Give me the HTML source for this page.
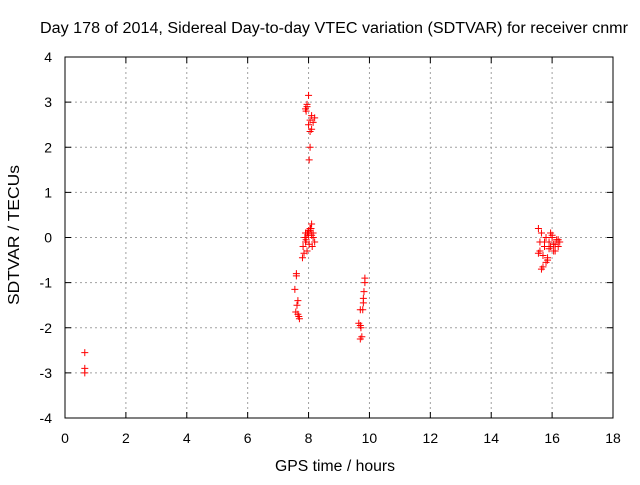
<!DOCTYPE html>
<html><head><meta charset="utf-8"><style>
body{margin:0;background:#fff;}
svg text{font-family:"Liberation Sans",sans-serif;font-size:14px;fill:#000;}
</style></head><body>
<svg id="chart" width="640" height="480">
<text x="40" y="33" textLength="588" lengthAdjust="spacingAndGlyphs" style="font-size:15.5px">Day 178 of 2014, Sidereal Day-to-day VTEC variation (SDTVAR) for receiver cnmr</text>
<text x="335" y="471" text-anchor="middle" textLength="120" lengthAdjust="spacingAndGlyphs" style="font-size:15.5px">GPS time / hours</text>
<text x="19" y="235" text-anchor="middle" textLength="140" lengthAdjust="spacingAndGlyphs" style="font-size:15.5px" transform="rotate(-90 19 235)">SDTVAR / TECUs</text>
<g id="grid"></g><g id="axes"></g><g id="pts"></g>
<rect x="65" y="57" width="548" height="361" fill="none" stroke="#000"/>
</svg>
<script>
const xTicks=[0,2,4,6,8,10,12,14,16,18];
const yTicks=[-4,-3,-2,-1,0,1,2,3,4];
const xs=[0.65,0.65,0.65,
7.55,7.6,7.6,7.65,7.62,7.58,7.65,7.68,7.7,
7.8,7.85,7.82,7.9,7.88,7.95,8.0,8.05,8.1,7.92,7.98,8.02,8.08,8.15,8.12,8.0,7.95,8.1,8.2,8.05,7.9,8.15,
7.95,7.9,7.92,7.95,8.0,8.05,8.1,8.15,8.2,8.0,8.1,8.05,8.05,8.02,
9.7,9.72,9.75,9.7,9.78,9.8,9.8,9.82,9.85,9.85,9.65,9.7,
15.55,15.6,15.65,15.7,15.75,15.8,15.85,15.9,15.95,16.0,16.05,16.1,16.15,16.2,16.25,15.6,15.7,15.8,15.9,16.0,16.1,15.65,15.75,15.85,15.95,16.05,15.55,16.2];
const ys=[-2.55,-2.9,-3.0,
-1.15,-0.8,-0.85,-1.4,-1.5,-1.65,-1.7,-1.75,-1.8,
-0.45,-0.35,-0.2,-0.1,0.0,0.1,0.15,0.2,0.05,-0.05,0.1,-0.15,0.2,0.0,-0.2,0.05,-0.3,0.3,-0.1,0.15,0.1,0.1,
2.95,2.85,2.8,2.9,3.15,2.6,2.7,2.55,2.65,2.5,2.4,2.35,2.0,1.72,
-1.95,-2.0,-2.2,-2.25,-1.6,-1.45,-1.35,-1.2,-1.0,-0.9,-1.9,-1.6,
0.2,-0.1,-0.7,-0.4,-0.2,0.0,-0.5,-0.1,0.1,0.05,-0.3,-0.15,-0.05,-0.2,-0.1,-0.3,-0.65,-0.55,-0.25,0.0,-0.3,0.1,-0.1,-0.45,-0.2,-0.15,-0.35,-0.05];
const NS="http://www.w3.org/2000/svg";
const X=v=>65+v*(548/18), Y=v=>237.5-v*(361/8);
const g=document.getElementById('grid'),a=document.getElementById('axes'),p=document.getElementById('pts');
function mk(t,at,par){const e=document.createElementNS(NS,t);for(const k in at)e.setAttribute(k,at[k]);par.appendChild(e);return e;}
xTicks.forEach(t=>{const x=X(t);
 if(t>0&&t<18){const l=mk('line',{x1:x,x2:x,y1:57,y2:418,stroke:'#a0a0a0','stroke-dasharray':'2,3'},g);
 
 }
 mk('line',{x1:x,x2:x,y1:418,y2:412,stroke:'#000'},a);mk('line',{x1:x,x2:x,y1:57,y2:63,stroke:'#000'},a);
 const tx=mk('text',{x:x,y:443,'text-anchor':'middle'},a);tx.textContent=t;
 
 });
yTicks.forEach(t=>{const y=Y(t);
 if(t>-4&&t<4){const l=mk('line',{x1:65,x2:613,y1:y,y2:y,stroke:'#a0a0a0','stroke-dasharray':'2,3'},g);
 
 }
 mk('line',{x1:65,x2:71,y1:y,y2:y,stroke:'#000'},a);mk('line',{x1:613,x2:607,y1:y,y2:y,stroke:'#000'},a);
 const tx=mk('text',{x:52,y:y+5,'text-anchor':'end'},a);tx.textContent=t;
 
 });
xs.forEach((v,i)=>{const x=X(v),y=Y(ys[i]);
 const e=mk('path',{d:`M${x-3.5},${y}h7M${x},${y-3.5}v7`,stroke:'#f00','stroke-width':1},p);
 
 });
</script>
</body></html>
